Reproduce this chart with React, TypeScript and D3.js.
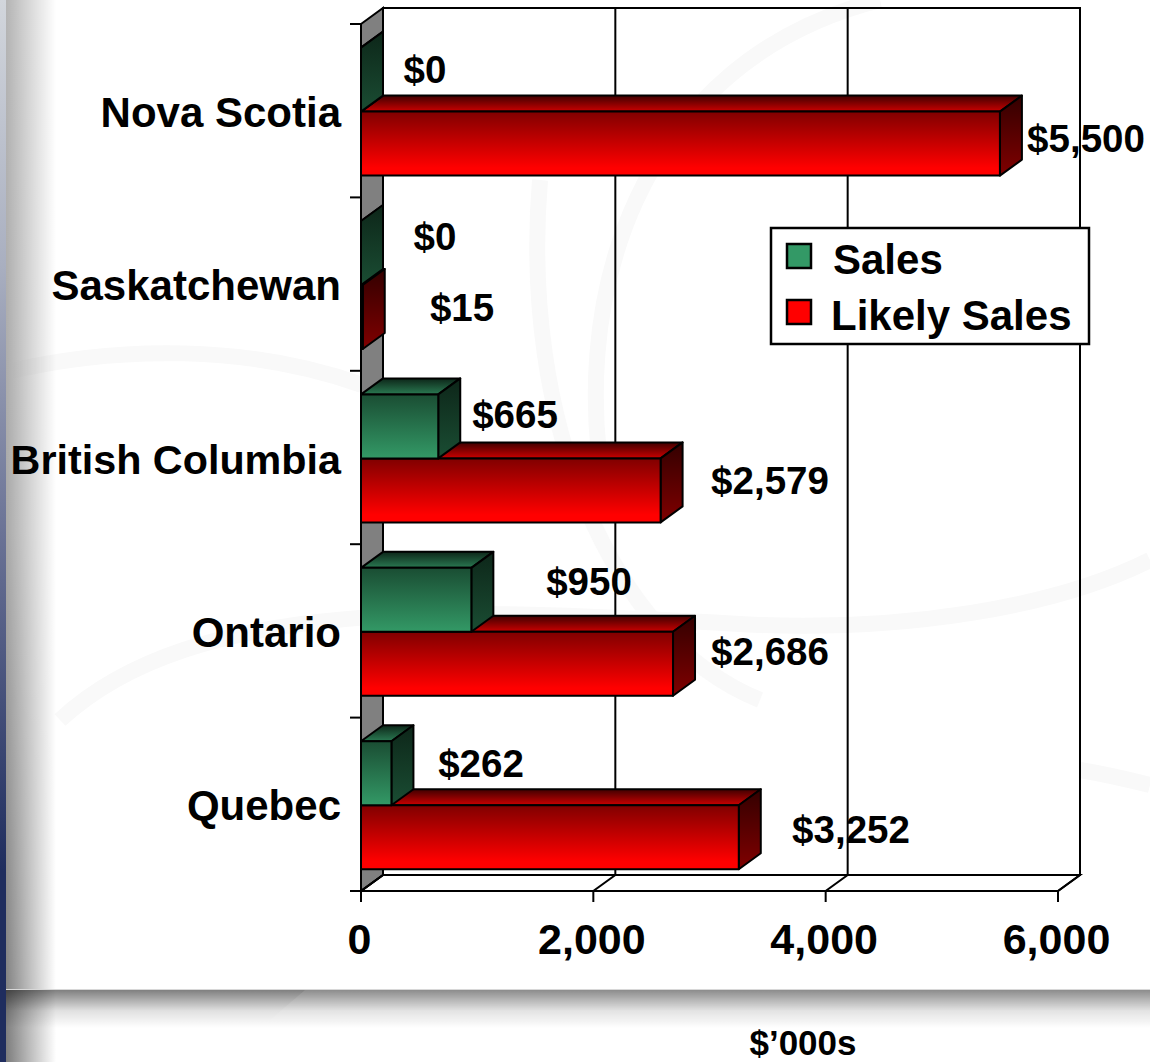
import React from 'react';
import * as d3 from 'd3';

const categories = ['Nova Scotia', 'Saskatchewan', 'British Columbia', 'Ontario', 'Quebec'];
const salesValues = [0, 0, 665, 950, 262];
const likelyValues = [5500, 15, 2579, 2686, 3252];
const seriesNames = ['Sales', 'Likely Sales'];
const xTicks = [0, 2000, 4000, 6000];

// label spots, the source chart had them hand placed
const salesLabelPos = [[425, 70], [435, 237], [515, 415], [589, 582], [481, 764]];
const likelyLabelPos = [[1086, 139], [462, 308], [770, 481], [770, 652], [851, 830]];

const width = 1150;
const height = 1062;
const margin = { top: 24, left: 361, bottom: 891, right: 1058 };
const depth = { x: 22, y: -16 };
const font = '"Liberation Sans", Arial, sans-serif';

const x = d3.scaleLinear().domain([0, 6000]).range([margin.left, margin.right]);
const y = d3.scaleBand().domain(categories).range([margin.top, margin.bottom]);
const inner = d3.scaleBand().domain(seriesNames).range([0, y.bandwidth()]).paddingInner(0).paddingOuter(0.355).align(0.52);

const poly = (pts: number[][]) => d3.line()(pts as [number, number][]) + 'Z';

const Bar = ({ cat, name, value, front, top, side }: any) => {
  const x0 = x(0);
  const x1 = x(value);
  const y0 = y(cat)! + inner(name)!;
  const y1 = y0 + inner.bandwidth();
  const d = depth;
  return (
    <g stroke="#000" strokeWidth={2} strokeLinejoin="round">
      <path d={poly([[x0, y0], [x0 + d.x, y0 + d.y], [x1 + d.x, y0 + d.y], [x1, y0]])} fill={`url(#${top})`} />
      <path d={poly([[x1, y0], [x1 + d.x, y0 + d.y], [x1 + d.x, y1 + d.y], [x1, y1]])} fill={`url(#${side})`} />
      <rect x={x0} y={y0} width={x1 - x0} height={y1 - y0} fill={`url(#${front})`} />
    </g>
  );
};

const Grad = ({ id, from, to }: any) => (
  <linearGradient id={id} x1="0" y1="0" x2={0} y2={1}>
    <stop offset="0" stopColor={from} />
    <stop offset="1" stopColor={to} />
  </linearGradient>
);

export default function App() {
  const d = depth;
  const backLeft = x(0) + d.x;
  const backRight = x(6000) + d.x;
  const topBack = margin.top + d.y;
  const floorBack = margin.bottom + d.y;
  const tickYs = [...categories.map((c) => y(c)!), margin.bottom];

  return (
    <svg
      width={width}
      height={height}
      viewBox={`0 0 ${width} ${height}`}
      style={{ position: 'absolute', left: 0, top: 0, fontFamily: font, fontWeight: 700 }}
    >
      <defs>
        <linearGradient id="leftFade" x1="0" y1="0" x2="1" y2="0">
          <stop offset="0" stopColor="#fff" />
          <stop offset="0.45" stopColor="#8a8a8a" />
          <stop offset="1" stopColor="#000" />
        </linearGradient>
        <mask id="leftMask" maskUnits="userSpaceOnUse" x={0} y={0} width={width} height={height}>
          <rect x={6} y={0} width={50} height={height} fill="url(#leftFade)" />
        </mask>
        <linearGradient id="leftShade" x1="0" y1="0" x2="0" y2="1">
          <stop offset="0" stopColor="#b4b4b4" />
          <stop offset="0.5" stopColor="#a8a8a8" />
          <stop offset="1" stopColor="#7c7c7c" />
        </linearGradient>
        <linearGradient id="bottomShade" x1="0" y1="0" x2="0" y2="1">
          <stop offset="0" stopColor="#000" stopOpacity={0.5} />
          <stop offset="0.55" stopColor="#000" stopOpacity={0.12} />
          <stop offset="1" stopColor="#000" stopOpacity={0} />
        </linearGradient>
        <linearGradient id="navy" x1="0" y1="0" x2="0" y2="1">
          <stop offset="0" stopColor="#d2d6dc" />
          <stop offset="0.25" stopColor="#a9afc0" />
          <stop offset="0.5" stopColor="#6b7396" />
          <stop offset="0.82" stopColor="#1f2d5e" />
          <stop offset="1" stopColor="#1f2d5e" />
        </linearGradient>
        <Grad id="greenFront" from="#1a4d33" to="#339966" />
        <Grad id="greenTop" from="#0d2619" to="#2a7a52" />
        <Grad id="greenSide" from="#0d2619" to="#1a4d33" />
        <linearGradient id="redFront" x1="0" y1="0" x2="0" y2="1">
          <stop offset="0" stopColor="#800000" />
          <stop offset="0.88" stopColor="#ff0000" />
          <stop offset="1" stopColor="#ff0000" />
        </linearGradient>
        <Grad id="redTop" from="#400000" to="#cc0000" />
        <Grad id="redSide" from="#330000" to="#800000" />
      </defs>

      {/* slide background */}
      <rect width={width} height={height} fill="#fff" />
      <g fill="none" stroke="#f9f9f9" strokeWidth={16}>
        <path d="M6,372 C120,345 250,345 362,385" />
        <path d="M60,720 C200,590 480,610 760,625 C900,630 1050,610 1150,560" />
        <path d="M540,180 C520,420 610,640 760,700" />
        <path d="M880,0 C640,60 560,300 610,520" />
        <path d="M1080,770 C1110,775 1130,780 1150,785" />
      </g>
      <rect x={6} y={0} width={50} height={height} fill="url(#leftShade)" mask="url(#leftMask)" />
      <rect x={6} y={990} width={width - 6} height={38} fill="url(#bottomShade)" />
      <path d="M305,990 L270,1020 L1150,1020 L1150,990Z" fill="#fff" fillOpacity={0.1} />
      <line x1={6} x2={width} y1={989.5} y2={989.5} stroke="#d8d8d8" />
      <rect x={0} y={0} width={6} height={height} fill="url(#navy)" />

      {/* back wall, floor and gridlines */}
      <path
        d={poly([[x(0), margin.top], [backLeft, topBack], [backLeft, floorBack], [x(0), margin.bottom]])}
        fill="#808080"
        stroke="#000"
        strokeWidth={2}
      />
      <path
        d={poly([[backLeft, topBack], [backRight, topBack], [backRight, floorBack], [backLeft, floorBack]])}
        fill="none"
        stroke="#000"
        strokeWidth={2}
      />
      <path
        d={poly([[x(0), margin.bottom], [x(6000), margin.bottom], [backRight, floorBack], [backLeft, floorBack]])}
        fill="none"
        stroke="#000"
        strokeWidth={2}
      />
      {xTicks.map((t) => (
        <g key={t} stroke="#000" strokeWidth={2} fill="none">
          <path d={`M${x(t)},${margin.bottom + 11}V${margin.bottom}L${x(t) + d.x},${floorBack}V${topBack}`} />
        </g>
      ))}
      {tickYs.map((ty) => (
        <line key={ty} x1={x(0) - 11} x2={x(0)} y1={ty} y2={ty} stroke="#000" strokeWidth={2} />
      ))}

      {/* bars, red goes first so the green sits on its top face */}
      {categories.map((c, i) => (
        <g key={c}>
          <Bar cat={c} name="Likely Sales" value={likelyValues[i]} front="redFront" top="redTop" side="redSide" />
          <Bar cat={c} name="Sales" value={salesValues[i]} front="greenFront" top="greenTop" side="greenSide" />
        </g>
      ))}

      {/* category labels */}
      {categories.map((c) => (
        <text key={c} x={341} y={y(c)! + y.bandwidth() / 2 + 16} textAnchor="end" fontSize={c === 'British Columbia' ? 41.3 : 42}>
          {c}
        </text>
      ))}

      {/* value labels */}
      {salesValues.map((v, i) => (
        <text key={i} x={salesLabelPos[i][0]} y={salesLabelPos[i][1] + 13} textAnchor="middle" fontSize={38.5}>
          {d3.format('$,')(v)}
        </text>
      ))}
      {likelyValues.map((v, i) => (
        <text key={i} x={likelyLabelPos[i][0]} y={likelyLabelPos[i][1] + 13} textAnchor="middle" fontSize={38.5}>
          {d3.format('$,')(v)}
        </text>
      ))}

      {/* x axis labels */}
      {xTicks.map((t) => (
        <text key={t} x={x(t) - 1.5} y={954} textAnchor="middle" fontSize={43}>
          {d3.format(',')(t)}
        </text>
      ))}
      <text x={803} y={1055} textAnchor="middle" fontSize={35}>
        $’000s
      </text>

      {/* legend */}
      <rect x={771} y={228} width={318} height={116} fill="#fff" stroke="#000" strokeWidth={2.5} />
      <rect x={787} y={244} width={24} height={24} fill="#339966" stroke="#000" strokeWidth={2.5} />
      <rect x={787} y={300} width={24} height={24} fill="#ff0000" stroke="#000" strokeWidth={2.5} />
      <text x={833} y={274} fontSize={42}>{seriesNames[0]}</text>
      <text x={831} y={330} fontSize={42}>{seriesNames[1]}</text>
    </svg>
  );
}
